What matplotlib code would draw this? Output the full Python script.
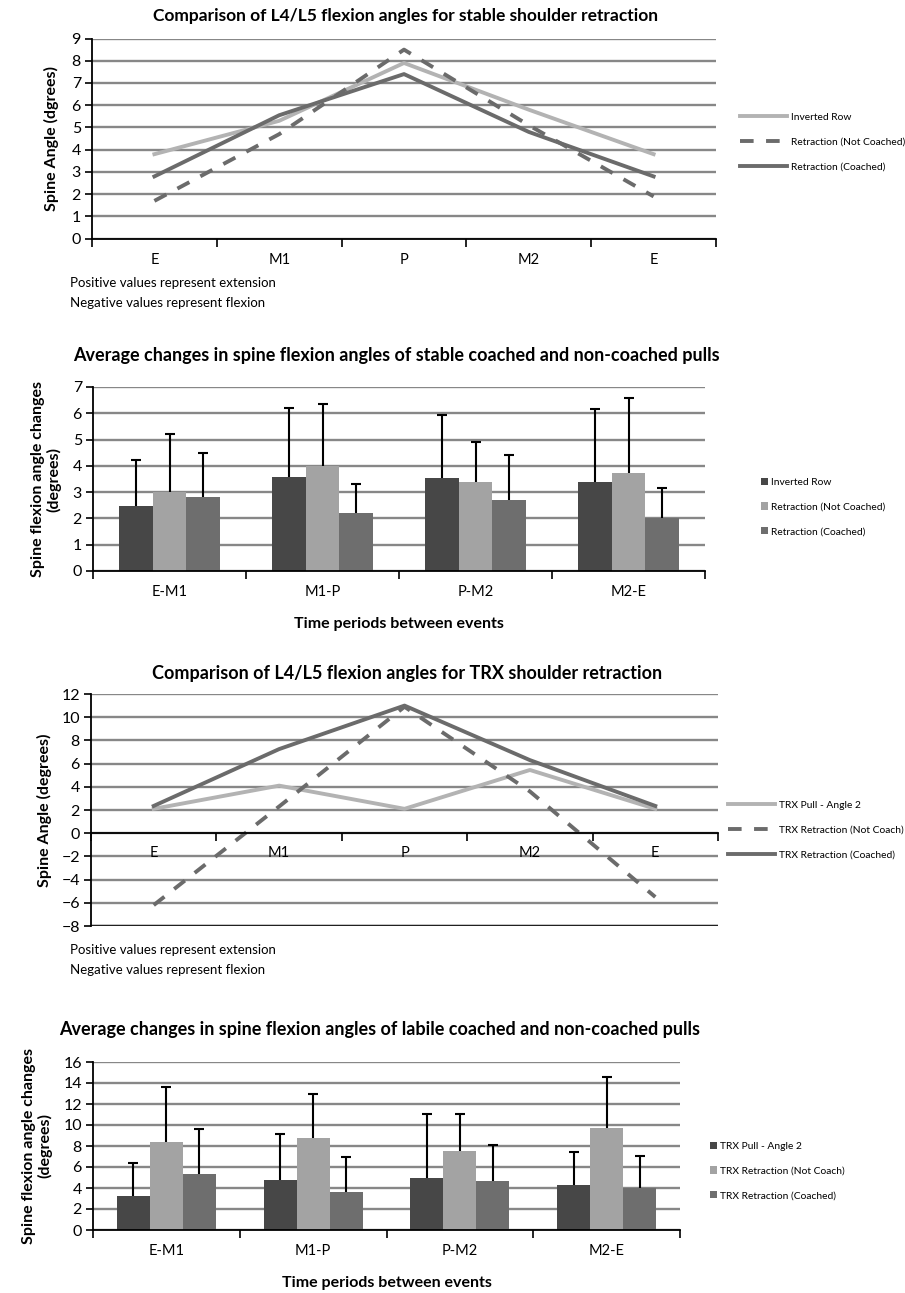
import matplotlib
matplotlib.use("Agg")
import matplotlib.pyplot as plt
import numpy as np

plt.rcParams['font.family'] = ['Lato', 'DejaVu Sans']

# ---------------- data ----------------
events = ['E', 'M1', 'P', 'M2', 'E']
stable_inverted = [3.8, 5.3, 7.9, 5.8, 3.8]
stable_not_coached = [1.7, 4.7, 8.5, 5.1, 1.9]
stable_coached = [2.8, 5.55, 7.4, 4.8, 2.8]

periods = ['E-M1', 'M1-P', 'P-M2', 'M2-E']
stable_bar_inv = [2.46, 3.57, 3.52, 3.37]
stable_err_inv = [1.77, 2.64, 2.41, 2.79]
stable_bar_nc = [3.0, 4.0, 3.4, 3.73]
stable_err_nc = [2.22, 2.36, 1.52, 2.84]
stable_bar_c = [2.81, 2.22, 2.69, 2.02]
stable_err_c = [1.69, 1.08, 1.73, 1.12]

trx_pull = [2.1, 4.1, 2.1, 5.45, 2.1]
trx_not_coach = [-6.2, 2.3, 10.9, 3.6, -5.5]
trx_coached = [2.35, 7.25, 11.0, 6.3, 2.35]

labile_bar_pull = [3.23, 4.75, 4.94, 4.25]
labile_err_pull = [3.14, 4.41, 6.15, 3.2]
labile_bar_nc = [8.37, 8.78, 7.51, 9.7]
labile_err_nc = [5.22, 4.15, 3.58, 4.88]
labile_bar_c = [5.29, 3.64, 4.63, 4.02]
labile_err_c = [4.37, 3.33, 3.45, 3.05]

stable_names = ['Inverted Row', 'Retraction (Not Coached)', 'Retraction (Coached)']
trx_names = ['TRX Pull - Angle 2', 'TRX Retraction (Not Coach)', 'TRX Retraction (Coached)']

# ---------------- styling ----------------
W, H = 905, 1293
fig = plt.figure(figsize=(W / 100, H / 100), dpi=100)

GRID = '#878787'
LIGHT_LINE = '#b3b3b3'
DARK_LINE = '#6b6b6b'
BAR_DARK = '#474747'
BAR_LIGHT = '#a3a3a3'
BAR_MID = '#6e6e6e'
TITLE_FS = 13
LEG_FS = 7.4
LEG_SP = 1.5


def add_ax(l, r, t, b):
    return fig.add_axes([l / W, 1 - b / H, (r - l) / W, (b - t) / H])


def ftext(x, y, s, **kw):
    fig.text(x / W, 1 - y / H, s, **kw)


def style_axes(ax, ymin, ymax, step):
    ax.set_ylim(ymin, ymax)
    ax.set_yticks(np.arange(ymin, ymax + 0.1, step))
    for v in np.arange(ymin, ymax + 0.1, step):
        ax.axhline(v, color=GRID, lw=1.7, zorder=0)
    for s in ['top', 'right']:
        ax.spines[s].set_visible(False)
    ax.spines['left'].set_linewidth(1.3)
    ax.spines['bottom'].set_linewidth(1.3)
    ax.spines['left'].set_zorder(5)
    ax.spines['bottom'].set_zorder(5)
    ax.tick_params(axis='y', length=5, width=1.2, labelsize=11.5, pad=3)
    ax.tick_params(axis='x', which='major', length=0, labelsize=10.5, pad=10)
    ax.tick_params(axis='x', which='minor', length=6, width=1.2, direction='out')


def category_ticks(ax, labels):
    n = len(labels)
    ax.set_xlim(-0.5, n - 0.5)
    ax.set_xticks(range(n))
    ax.set_xticklabels(labels)
    ax.set_xticks(np.arange(-0.5, n, 1.0), minor=True)


ekw = dict(ecolor='black', elinewidth=1.5, capsize=3.5, capthick=1.5)


def grouped_bars(ax, series, width):
    xb = np.arange(len(periods))
    handles = []
    for i, (vals, errs, col) in enumerate(series):
        b = ax.bar(xb + (i - 1) * width, vals, width, color=col, zorder=2,
                   yerr=[np.zeros(len(errs)), errs], error_kw=ekw)
        # hide the (zero-length) lower cap so only the top cap shows
        caps = b.errorbar.lines[1]
        if len(caps) == 2:
            caps[0].set_visible(False)
        handles.append(b)
    return handles


# ---------- Panel 1 ----------
ax1 = add_ax(92, 716, 38.5, 238.7)
style_axes(ax1, 0, 9, 1)
category_ticks(ax1, events)
x = np.arange(len(events))
l1, = ax1.plot(x, stable_inverted, color=LIGHT_LINE, lw=2.8, zorder=3)
l2, = ax1.plot(x, stable_not_coached, color=DARK_LINE, lw=2.8, dashes=(3.5, 3.2), zorder=3)
l3, = ax1.plot(x, stable_coached, color=DARK_LINE, lw=2.8, zorder=4)
ax1.set_ylabel('Spine Angle (dgrees)', fontsize=11.5, fontweight='bold', labelpad=9)
ftext(405, 16, 'Comparison of L4/L5 flexion angles for stable shoulder retraction',
      ha='center', va='center', fontsize=12.5, fontweight='bold')
ftext(70, 283, 'Positive values represent extension', ha='left', va='center', fontsize=9.5)
ftext(70, 303, 'Negative values represent flexion', ha='left', va='center', fontsize=9.5)
fig.legend([l1, l2, l3], stable_names, loc='center left',
           bbox_to_anchor=(735 / W, 1 - 142 / H), frameon=False, fontsize=LEG_FS,
           handlelength=4.6, handletextpad=0.35, labelspacing=LEG_SP, borderpad=0)

# ---------- Panel 2 ----------
ax2 = add_ax(93, 705, 387, 571)
style_axes(ax2, 0, 7, 1)
category_ticks(ax2, periods)
bars2 = grouped_bars(ax2, [(stable_bar_inv, stable_err_inv, BAR_DARK),
                           (stable_bar_nc, stable_err_nc, BAR_LIGHT),
                           (stable_bar_c, stable_err_c, BAR_MID)], 0.222)
ax2.set_ylabel('Spine flexion angle changes\n(degrees)', fontsize=11.5, fontweight='bold',
               labelpad=8, linespacing=1.1)
ax2.set_xlabel('Time periods between events', fontsize=11.5, fontweight='bold', labelpad=13)
ftext(396, 355, 'Average changes in spine flexion angles of stable coached and non-coached pulls',
      ha='center', va='center', fontsize=TITLE_FS, fontweight='bold')
fig.legend(bars2, stable_names, loc='center left',
           bbox_to_anchor=(756 / W, 1 - 507 / H), frameon=False, fontsize=LEG_FS,
           handlelength=0.7, handleheight=0.7, handletextpad=0.25, labelspacing=LEG_SP, borderpad=0)

# ---------- Panel 3 ----------
ax3 = add_ax(91, 718, 694, 926)
style_axes(ax3, -8, 12, 2)
category_ticks(ax3, events)
ax3.spines['bottom'].set_position(('data', 0))
ax3.axhline(-8, color='#202020', lw=1.7, zorder=1)
m1, = ax3.plot(x, trx_pull, color=LIGHT_LINE, lw=2.8, zorder=3)
m2, = ax3.plot(x, trx_not_coach, color=DARK_LINE, lw=2.8, dashes=(3.5, 3.2), zorder=3)
m3, = ax3.plot(x, trx_coached, color=DARK_LINE, lw=2.8, zorder=4)
ax3.tick_params(axis='x', which='major', pad=9)
ax3.set_ylabel('Spine Angle (degrees)', fontsize=11.5, fontweight='bold', labelpad=7)
ftext(407, 673, 'Comparison of L4/L5 flexion angles for TRX shoulder retraction',
      ha='center', va='center', fontsize=TITLE_FS, fontweight='bold')
ftext(70, 950, 'Positive values represent extension', ha='left', va='center', fontsize=9.5)
ftext(70, 970, 'Negative values represent flexion', ha='left', va='center', fontsize=9.5)
fig.legend([m1, m2, m3], trx_names, loc='center left',
           bbox_to_anchor=(723 / W, 1 - 830 / H), frameon=False, fontsize=LEG_FS,
           handlelength=4.6, handletextpad=0.35, labelspacing=LEG_SP, borderpad=0)

# ---------- Panel 4 ----------
ax4 = add_ax(93, 680, 1062, 1230)
style_axes(ax4, 0, 16, 2)
category_ticks(ax4, periods)
bars4 = grouped_bars(ax4, [(labile_bar_pull, labile_err_pull, BAR_DARK),
                           (labile_bar_nc, labile_err_nc, BAR_LIGHT),
                           (labile_bar_c, labile_err_c, BAR_MID)], 0.225)
ax4.set_ylabel('Spine flexion angle changes\n(degrees)', fontsize=11.5, fontweight='bold',
               labelpad=8, linespacing=1.1)
ax4.set_xlabel('Time periods between events', fontsize=11.5, fontweight='bold', labelpad=13)
ftext(380, 1029, 'Average changes in spine flexion angles of labile coached and non-coached pulls',
      ha='center', va='center', fontsize=TITLE_FS, fontweight='bold')
fig.legend(bars4, trx_names, loc='center left',
           bbox_to_anchor=(705 / W, 1 - 1171 / H), frameon=False, fontsize=LEG_FS,
           handlelength=0.7, handleheight=0.7, handletextpad=0.25, labelspacing=LEG_SP, borderpad=0)

fig.savefig('out.png', dpi=100)
